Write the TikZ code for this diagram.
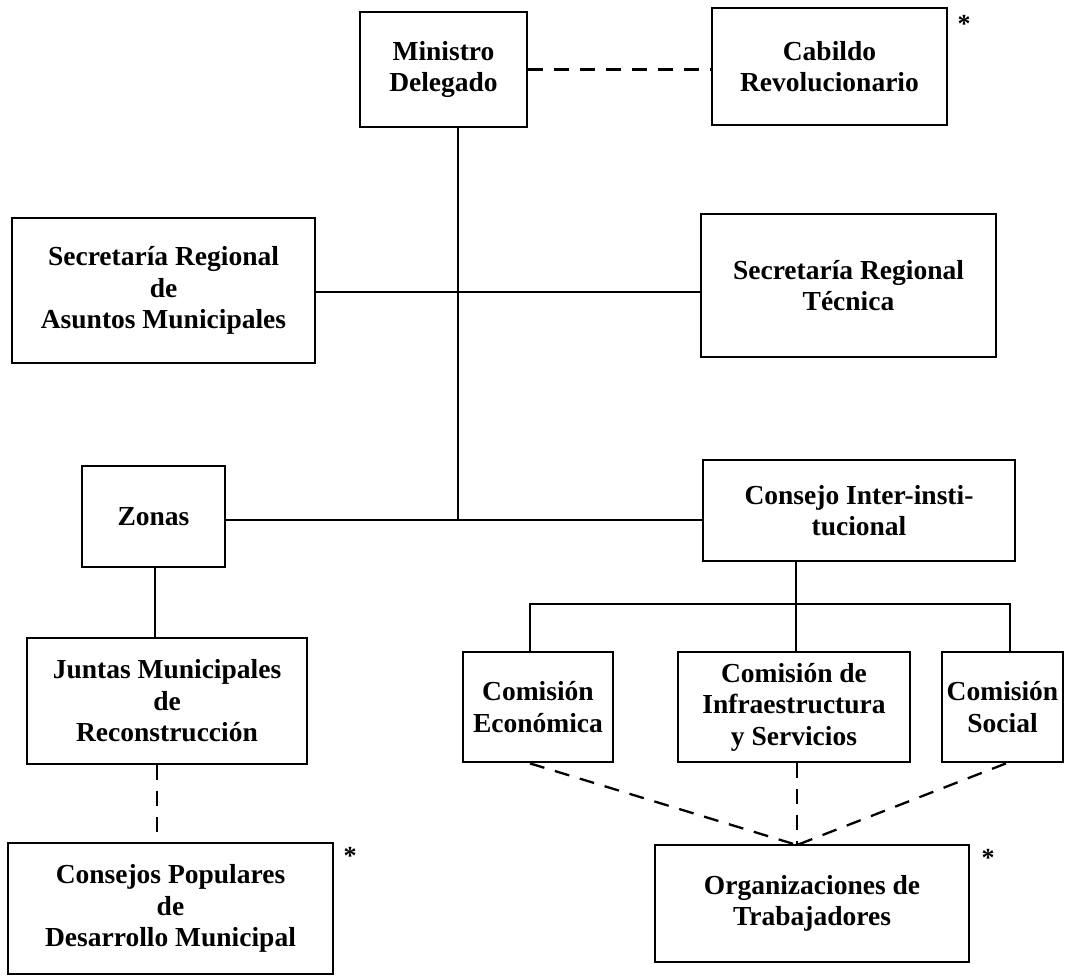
\documentclass[tikz,border=0pt]{standalone}
\usepackage{fontspec}
\setmainfont{Liberation Serif}
\begin{document}
\begin{tikzpicture}[x=1pt,y=-1pt,
  orgbox/.style={draw, line width=2.8pt, inner sep=0pt, align=center,
    font=\bfseries\fontsize{27.5}{31.5}\selectfont},
  link/.style={line width=2.3pt},
  dlink/.style={line width=2.3pt, dash pattern=on 15pt off 11pt},
  star/.style={font=\bfseries\fontsize{26}{26}\selectfont, inner sep=0pt}]
\useasboundingbox (0,0) rectangle (1066,976);
\node[orgbox, minimum width=167pt, minimum height=115pt] (mini) at (443.5,69.5) {Ministro\\Delegado};
\node[orgbox, minimum width=235pt, minimum height=117pt] (cab) at (829.5,66.5) {Cabildo\\Revolucionario};
\node[orgbox, minimum width=303pt, minimum height=145pt] (sra) at (163.5,290.5) {Secretaría Regional\\de\\Asuntos Municipales};
\node[orgbox, minimum width=295pt, minimum height=143pt] (srt) at (848.5,285.5) {Secretaría Regional\\Técnica};
\node[orgbox, minimum width=143pt, minimum height=101pt] (zonas) at (153.5,516.5) {Zonas};
\node[orgbox, minimum width=312pt, minimum height=101pt] (cii) at (859,510.5) {Consejo Inter-insti-\\tucional};
\node[orgbox, minimum width=280pt, minimum height=126pt] (juntas) at (167,701) {Juntas Municipales\\de\\Reconstrucción};
\node[orgbox, minimum width=325pt, minimum height=131pt] (cpdm) at (170.5,908.5) {Consejos Populares\\de\\Desarrollo Municipal};
\node[orgbox, minimum width=150pt, minimum height=110pt] (ce) at (538,707) {Comisión\\Económica};
\node[orgbox, minimum width=232pt, minimum height=110pt] (ci) at (794,707) {Comisión de\\Infraestructura\\y Servicios};
\node[orgbox, minimum width=121pt, minimum height=110pt] (cs) at (1002.5,707) {Comisión\\Social};
\node[orgbox, minimum width=314pt, minimum height=117pt] (org) at (812,903.5) {Organizaciones de\\Trabajadores};
\node[star] (ast1) at (964,24) {*};
\node[star] (ast2) at (350,856) {*};
\node[star] (ast3) at (988,858) {*};
% connectors
\coordinate (spine) at (458,520);
\coordinate (h1) at (458,292);
\coordinate (bus) at (796,604);
\coordinate (conv) at (797,845);
\draw[dlink] (mini.east) -- (cab.west |- mini.east);
\draw[link] (mini.south -| spine) -- (spine);
\draw[link] (sra.east |- h1) -- (srt.west |- h1);
\draw[link] (zonas.east |- spine) -- (cii.west |- spine);
\draw[link] (zonas.south -| 155,0) -- (juntas.north -| 155,0);
\draw[dlink] (juntas.south -| 157,0) -- (cpdm.north -| 157,0);
\draw[link] (cii.south -| bus) -- (ci.north -| bus);
\draw[link] (ce.north -| 530,0) |- (bus) -| (cs.north -| 1010,0);
\draw[dlink] (ce.south -| 530,0) -- (conv);
\draw[dlink] (ci.south -| conv) -- (conv);
\draw[dlink] (cs.south -| 1006,0) -- (conv);
\end{tikzpicture}
\end{document}
